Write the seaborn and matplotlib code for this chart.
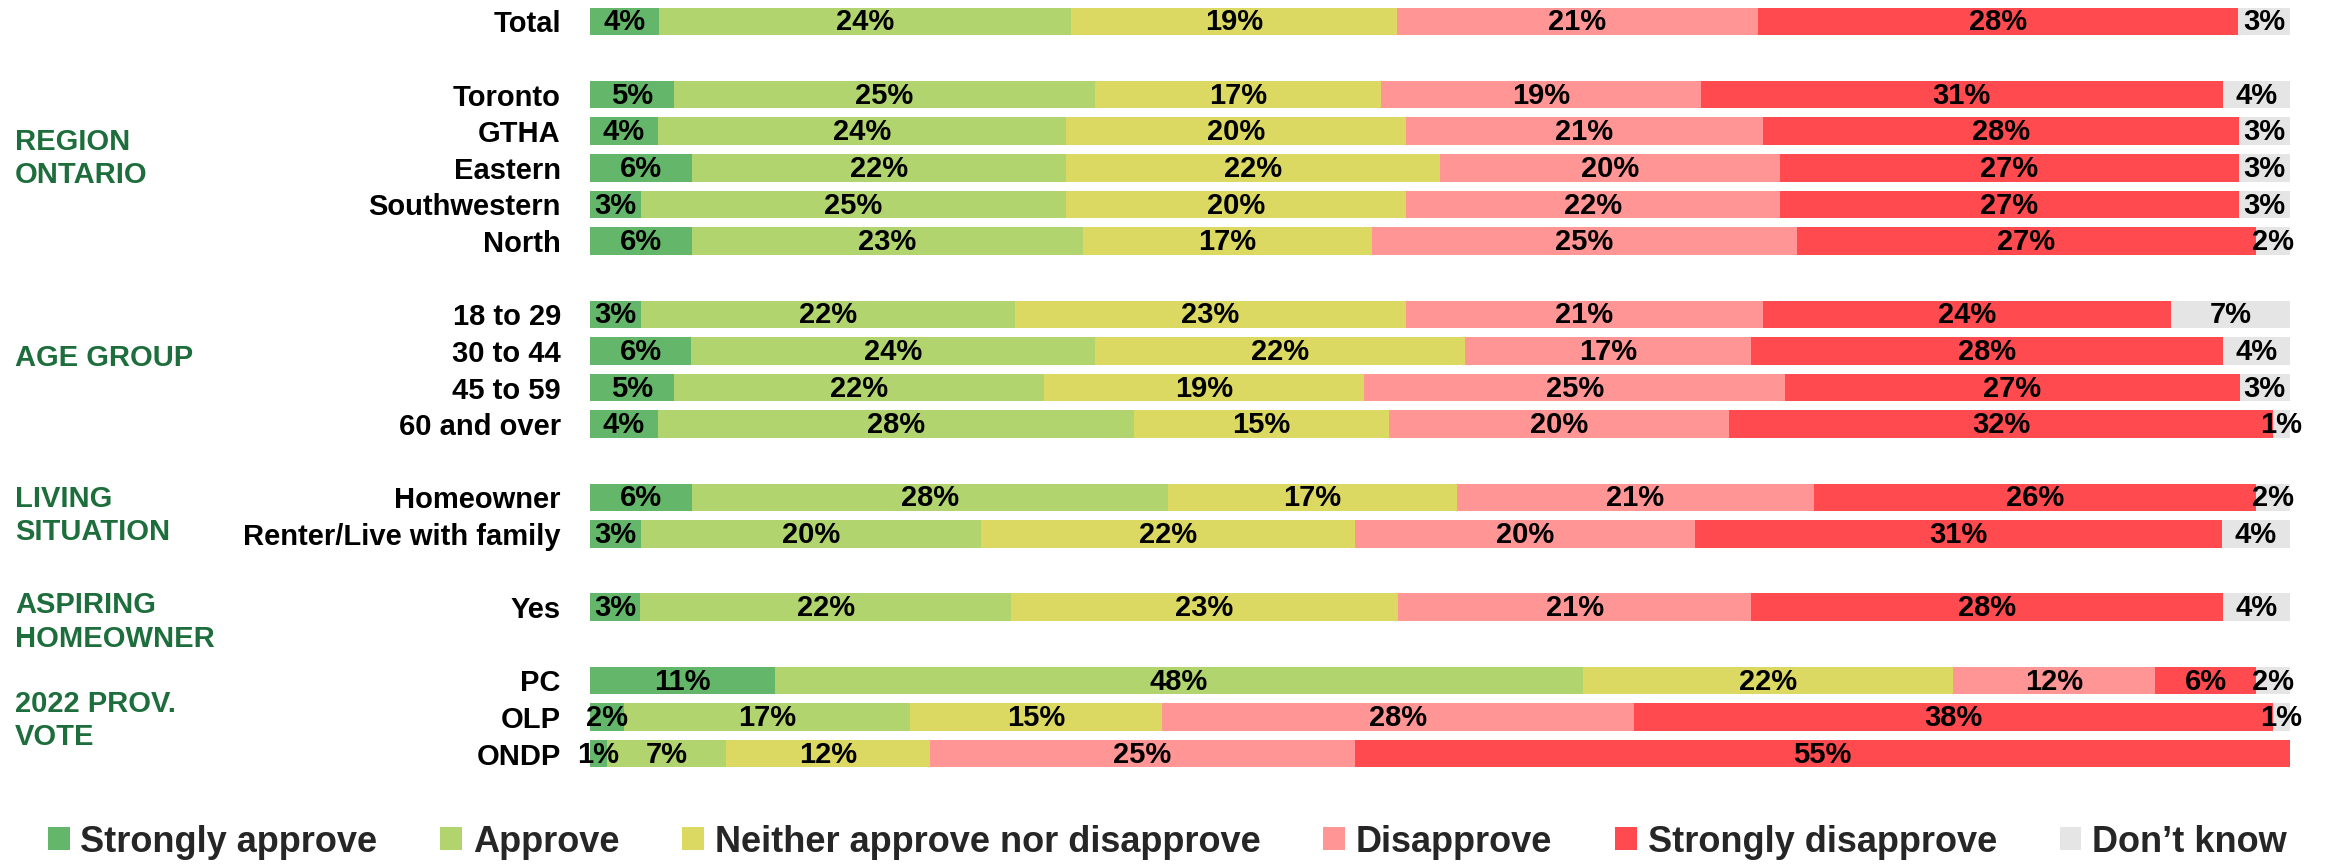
import numpy as np
import seaborn as sns
import matplotlib.pyplot as plt
from matplotlib.patches import Patch
from matplotlib.transforms import blended_transform_factory


# rows of the chart, top to bottom
rows = ["Total", "Toronto", "GTHA", "Eastern", "Southwestern", "North",
        "18 to 29", "30 to 44", "45 to 59", "60 and over",
        "Homeowner", "Renter/Live with family", "Yes", "PC", "OLP", "ONDP"]
groups = ["total", "region", "region", "region", "region", "region",
          "age", "age", "age", "age", "living", "living", "aspiring",
          "vote", "vote", "vote"]
group_titles = {
    "region": "REGION\nONTARIO",
    "age": "AGE GROUP",
    "living": "LIVING\nSITUATION",
    "aspiring": "ASPIRING\nHOMEOWNER",
    "vote": "2022 PROV.\nVOTE",
}

categories = ["Strongly approve", "Approve", "Neither approve nor disapprove",
              "Disapprove", "Strongly disapprove", "Don\u2019t know"]

strongly_approve = [4, 5, 4, 6, 3, 6, 3, 6, 5, 4, 6, 3, 3, 11, 2, 1]
approve = [24, 25, 24, 22, 25, 23, 22, 24, 22, 28, 28, 20, 22, 48, 17, 7]
neither = [19, 17, 20, 22, 20, 17, 23, 22, 19, 15, 17, 22, 23, 22, 15, 12]
disapprove = [21, 19, 21, 20, 22, 25, 21, 17, 25, 20, 21, 20, 21, 12, 28, 25]
strongly_disapprove = [28, 31, 28, 27, 27, 27, 24, 28, 27, 32, 26, 31, 28, 6, 38, 55]
dont_know = [3, 4, 3, 3, 3, 2, 7, 4, 3, 1, 2, 4, 4, 2, 1, 0]

colors = ["#64B66A", "#B1D46E", "#DBD962", "#FF9595", "#FF4A50", "#E4E5E4"]
green_txt = "#1D6E3C"

sns.set_theme(style="white")
plt.rcParams["font.family"] = ["Liberation Sans", "DejaVu Sans"]

# slot positions: one empty slot between groups
slots = []
pos = 0
for i, g in enumerate(groups):
    if i > 0 and g != groups[i - 1]:
        pos += 1
    slots.append(pos)
    pos += 1
slots = np.array(slots, dtype=float)

vals = np.array([strongly_approve, approve, neither, disapprove,
                 strongly_disapprove, dont_know], dtype=float).T
# scale each row to the full bar length
widths = vals / vals.sum(axis=1, keepdims=True) * 100
cum = np.cumsum(widths, axis=1)

W, H = 2329, 865
fig = plt.figure(figsize=(W / 100, H / 100), dpi=100)
ax = fig.add_axes([590 / W, 1 - 772 / H, 1700 / W, 769 / H])

# stacked bars: draw cumulative totals from the longest to the shortest
for k in range(len(categories) - 1, -1, -1):
    sns.barplot(x=cum[:, k], y=slots, orient="h", native_scale=True,
                color=colors[k], saturation=1, width=0.75, linewidth=0,
                errorbar=None, ax=ax)

# value labels
for i in range(len(rows)):
    for k in range(len(categories)):
        v = vals[i, k]
        if v <= 0:
            continue
        xc = cum[i, k] - widths[i, k] / 2
        ax.text(xc, slots[i] + 0.03, f"{int(v)}%", ha="center", va="center",
                fontsize=21, fontweight="bold", color="black")

ax.set_xlim(0, 100)
ax.set_ylim(slots[-1] + 0.5, -0.5)
ax.set_yticks(slots)
ax.set_yticklabels(rows, fontsize=21, fontweight="bold", color="black")
ax.tick_params(axis="y", length=0, pad=21)
ax.xaxis.set_visible(False)
ax.set_xlabel("")
ax.set_ylabel("")
for s in ax.spines.values():
    s.set_visible(False)

# group titles on the left
trans = blended_transform_factory(fig.transFigure, ax.transData)
title_rows = {"region": 3.75, "age": 9.2, "living": 13.5,
              "aspiring": 16.4, "vote": 19.1}
for g, t in group_titles.items():
    ax.text(15 / W, title_rows[g], t, transform=trans, ha="left", va="center",
            fontsize=21, fontweight="bold", color=green_txt, linespacing=1.25)

# legend
handles = [Patch(facecolor=c, edgecolor="none") for c in colors]
fig.legend(handles, categories, loc="center left",
           bbox_to_anchor=(48 / W, 1 - 842 / H), ncol=6, frameon=False,
           prop={"size": 26, "weight": "bold"}, handlelength=0.6,
           handleheight=0.6, handletextpad=0.3, columnspacing=1.74,
           borderpad=0, borderaxespad=0)

fig.savefig("out.png", dpi=100)
